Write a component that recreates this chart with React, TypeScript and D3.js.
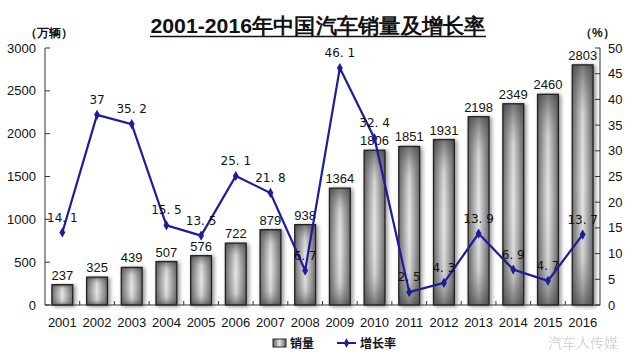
import React from "react";
import * as d3 from "d3";

const years = ["2001","2002","2003","2004","2005","2006","2007","2008","2009","2010","2011","2012","2013","2014","2015","2016"];
const sales = [237, 325, 439, 507, 576, 722, 879, 938, 1364, 1806, 1851, 1931, 2198, 2349, 2460, 2803];
const growth = [14.1, 37, 35.2, 15.5, 13.5, 25.1, 21.8, 6.7, 46.1, 32.4, 2.5, 4.3, 13.9, 6.9, 4.7, 13.7];
const leftTicks = [0, 500, 1000, 1500, 2000, 2500, 3000];
const rightTicks = [0, 5, 10, 15, 20, 25, 30, 35, 40, 45, 50];

const W = 640, H = 355;
const L = 45, R = 600, T = 48, B = 305;
const NARROW = "'Liberation Sans Narrow', 'Arial Narrow', 'Liberation Sans', Arial, sans-serif";
const LINE = "#1c1c9c";

export default function App() {
  const x = d3.scaleBand<string>().domain(years).range([L, R]).paddingInner(0.4).paddingOuter(0.2);
  const yL = d3.scaleLinear().domain([0, 3000]).range([B, T]);
  const yR = d3.scaleLinear().domain([0, 50]).range([B, T]);
  const cx = (i: number) => (x(years[i]) as number) + x.bandwidth() / 2;
  const line = d3.line<number>().x((_, i) => cx(i)).y(d => yR(d));
  const fmtG = (v: number) => (Number.isInteger(v) ? String(v) : v.toFixed(1).replace(".", ". "));
  const step = x.step();
  const boundaries = d3.range(years.length + 1).map(i => L + i * step);

  return (
    <svg width={W} height={H} style={{ position: "absolute", left: 0, top: 0, background: "#fff" }}>
      <defs>
        <linearGradient id="gh" x1="0" x2="1" y1="0" y2="0">
          <stop offset="0" stopColor="#5e5e5e" />
          <stop offset="0.5" stopColor="#e4e4e4" />
          <stop offset="1" stopColor="#5e5e5e" />
        </linearGradient>
        <linearGradient id="gv" x1="0" x2="0" y1="0" y2="1">
          <stop offset="0" stopColor="#444" stopOpacity="0.7" />
          <stop offset="0.2" stopColor="#888" stopOpacity="0.15" />
          <stop offset="0.5" stopColor="#fff" stopOpacity="0.1" />
          <stop offset="0.8" stopColor="#888" stopOpacity="0.15" />
          <stop offset="1" stopColor="#444" stopOpacity="0.7" />
        </linearGradient>
        <filter id="sh" x="-30%" y="-10%" width="160%" height="130%">
          <feGaussianBlur in="SourceAlpha" stdDeviation="2" />
          <feOffset dx="2" dy="1" result="ob" />
          <feComponentTransfer><feFuncA type="linear" slope="0.45" /></feComponentTransfer>
          <feMerge><feMergeNode /><feMergeNode in="SourceGraphic" /></feMerge>
        </filter>
      </defs>

      {/* title */}
      <text x={318} y={33} textAnchor="middle" fontFamily={NARROW} fontWeight="bold" fontSize={21} fill="#111" textLength={335} lengthAdjust="spacingAndGlyphs">2001-2016年中国汽车销量及增长率</text>
      <line x1={150} x2={486} y1={36.5} y2={36.5} stroke="#111" strokeWidth={1.6} />
      <text x={25} y={37} fontFamily={NARROW} fontWeight="bold" fontSize={12} fill="#111">（万辆）</text>
      <text x={580} y={37} fontFamily={NARROW} fontWeight="bold" fontSize={12} fill="#111">（%）</text>

      {/* bars */}
      {sales.map((v, i) => (
        <g key={years[i]} filter="url(#sh)">
          <rect x={x(years[i])} y={yL(v)} width={x.bandwidth()} height={B - yL(v)} fill="url(#gh)" />
          <rect x={x(years[i])} y={yL(v)} width={x.bandwidth()} height={B - yL(v)} fill="url(#gv)" stroke="#222" strokeWidth={1.3} />
        </g>
      ))}
      {sales.map((v, i) => (
        <text key={"sl" + i} x={cx(i)} y={yL(v) - 5} textAnchor="middle" fontFamily={NARROW} fontSize={13} fill="#111">{v}</text>
      ))}

      {/* axes */}
      <line x1={L} x2={L} y1={T} y2={B} stroke="#333" strokeWidth={1} />
      <line x1={R} x2={R} y1={T} y2={B} stroke="#333" strokeWidth={1} />
      <line x1={L} x2={R} y1={B} y2={B} stroke="#333" strokeWidth={1.2} />
      {leftTicks.map(t => (
        <g key={"lt" + t}>
          <line x1={L} x2={L + 5} y1={yL(t)} y2={yL(t)} stroke="#333" />
          <text x={36} y={yL(t) + 4.5} textAnchor="end" fontFamily={NARROW} fontSize={13} fill="#111">{t}</text>
        </g>
      ))}
      {rightTicks.map(t => (
        <g key={"rt" + t}>
          <line x1={R - 5} x2={R} y1={yR(t)} y2={yR(t)} stroke="#333" />
          <text x={608} y={yR(t) + 4.5} textAnchor="start" fontFamily={NARROW} fontSize={13} fill="#111">{t}</text>
        </g>
      ))}
      {boundaries.slice(1, -1).map((b, i) => (
        <line key={"xb" + i} x1={b} x2={b} y1={B - 4} y2={B} stroke="#333" />
      ))}
      {years.map((yv, i) => (
        <text key={"yl" + yv} x={cx(i)} y={327} textAnchor="middle" fontFamily={NARROW} fontSize={13} fill="#111">{yv}</text>
      ))}

      {/* growth line */}
      <path d={line(growth) || ""} fill="none" stroke={LINE} strokeWidth={2.2} />
      {growth.map((g, i) => (
        <path key={"m" + i} transform={`translate(${cx(i)},${yR(g)})`} d={d3.symbol(d3.symbolDiamond, 30)() || ""} fill={LINE} />
      ))}
      {growth.map((g, i) => (
        <text key={"gl" + i} x={cx(i)} y={yR(g) - 11} textAnchor="middle" fontFamily="'DejaVu Sans', sans-serif" fontSize={12} fill="#111">{fmtG(g)}</text>
      ))}

      {/* legend */}
      <rect x={273} y={339} width={13} height={8} fill="url(#gh)" stroke="#222" strokeWidth={1} />
      <text x={290} y={348} fontFamily="'Noto Sans CJK SC', sans-serif" fontWeight="bold" fontSize={12} fill="#111">销量</text>
      <line x1={337} x2={356} y1={343} y2={343} stroke={LINE} strokeWidth={2} />
      <path transform="translate(346.5,343)" d={d3.symbol(d3.symbolDiamond, 25)() || ""} fill={LINE} />
      <text x={360} y={348} fontFamily="'Noto Sans CJK SC', sans-serif" fontWeight="bold" fontSize={12} fill="#111">增长率</text>

      {/* watermark */}
      <text x={548} y={348} fontFamily="'Noto Sans CJK SC', sans-serif" fontSize={14} fill="#bbb" opacity={0.6}>汽车人传媒</text>
    </svg>
  );
}
